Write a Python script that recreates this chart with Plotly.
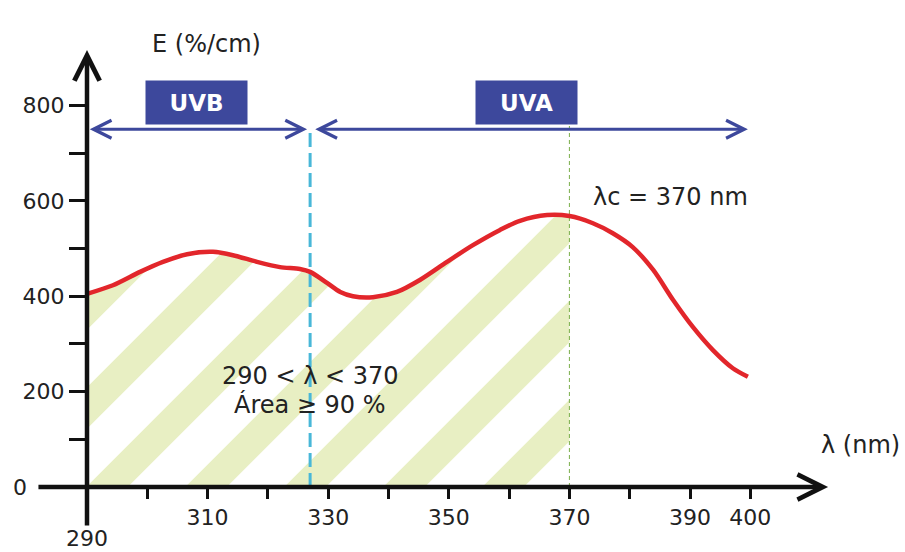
import plotly.graph_objects as go

# ---------------- data ----------------
wavelength_nm = [290.0, 294.3, 298.8, 302.6, 306.6, 310.9, 314.2, 318.2, 322.0, 325.3,
                 327.0, 329.8, 332.0, 334.1, 337.4, 341.4, 345.2, 349.7, 354.0, 358.5,
                 361.8, 366.3, 370.0, 373.9, 377.2, 380.5, 383.9, 387.2, 390.5, 393.8,
                 397.1, 399.6]
efficacy = [405, 423, 451, 472, 488, 493, 486, 472, 461, 457,
            451, 428, 409, 400, 398, 409, 434, 472, 507, 539,
            558, 570, 568, 553, 532, 503, 455, 392, 335, 287,
            249, 231]

x_tick_vals = [300, 310, 320, 330, 340, 350, 360, 370, 380, 390, 400]
x_tick_text = ["", "310", "", "330", "", "350", "", "370", "", "390", "400"]
y_tick_vals = [100, 200, 300, 400, 500, 600, 700, 800]
y_tick_text = ["", "200", "", "400", "", "600", "", "800"]

x_origin = 290
uv_boundary_nm = 327
lambda_c_nm = 370
band_level = 750
uvb_span = [290.2, 326.5]
uva_span = [327.6, 399.6]

# ---------------- scales (pixel layout of the reference) ----------------
W, H = 905, 552
px_per_nm = 6.03
px_per_unit = 0.477
x0_px, y0_px = 87, 487
x_range = [x_origin - x0_px / px_per_nm, x_origin + (W - x0_px) / px_per_nm]
y_range = [-(H - y0_px) / px_per_unit, y0_px / px_per_unit]

FONT = "DejaVu Sans"
TXT = "#222222"
RED = "#e2262b"
NAVY = "#3d489c"

fig = go.Figure()

# hatched area 290..370
fx = [w for w in wavelength_nm if w <= lambda_c_nm]
fy = efficacy[:len(fx)]
fig.add_trace(go.Scatter(
    x=fx, y=fy, mode="lines", line=dict(width=0, shape="spline", smoothing=0.8),
    fill="tozeroy", fillcolor="rgba(255,255,255,0)",
    fillpattern=dict(shape="/", fgcolor="#e8efc3", bgcolor="rgba(255,255,255,0)",
                     size=70, solidity=0.42, fgopacity=1),
    hoverinfo="skip", showlegend=False))

# boundary UVB/UVA (cyan dashed)
fig.add_trace(go.Scatter(
    x=[uv_boundary_nm, uv_boundary_nm], y=[0, band_level], mode="lines",
    line=dict(color="#48b7d8", width=3, dash="14px,6px"),
    hoverinfo="skip", showlegend=False))

# lambda_c (thin green dashed)
fig.add_trace(go.Scatter(
    x=[lambda_c_nm, lambda_c_nm], y=[0, 762], mode="lines",
    line=dict(color="#7aae4a", width=1, dash="4px,3px"),
    hoverinfo="skip", showlegend=False))

# red curve
fig.add_trace(go.Scatter(
    x=wavelength_nm, y=efficacy, mode="lines",
    line=dict(color=RED, width=4.5, shape="spline", smoothing=0.8),
    hoverinfo="skip", showlegend=False))

x_pos = (0 - y_range[0]) / (y_range[1] - y_range[0])
y_pos = (x_origin - x_range[0]) / (x_range[1] - x_range[0])

fig.update_layout(
    width=W, height=H,
    margin=dict(l=0, r=0, t=0, b=0, autoexpand=False),
    paper_bgcolor="white", plot_bgcolor="white",
    font=dict(family=FONT, color=TXT, size=22),
    xaxis=dict(range=x_range, anchor="free", position=x_pos, automargin=False,
               showgrid=False, zeroline=False, showline=False,
               tickmode="array", tickvals=x_tick_vals, ticktext=x_tick_text,
               ticks="outside", ticklen=11, tickwidth=3, tickcolor="#111",
               tickfont=dict(size=22, color=TXT, family=FONT)),
    yaxis=dict(range=y_range, anchor="free", position=y_pos, automargin=False,
               showgrid=False, zeroline=False, showline=False,
               tickmode="array", tickvals=y_tick_vals, ticktext=y_tick_text,
               ticks="outside", ticklen=18, tickwidth=3, tickcolor="#111",
               tickfont=dict(size=22, color=TXT, family=FONT)),
)

ann = []
# axes with arrow heads
ann.append(dict(x=412.9, y=0, ax=281.7, ay=0, xref="x", yref="y", axref="x", ayref="y",
                text="", showarrow=True, arrowhead=5, arrowsize=1.1, arrowwidth=4.5,
                arrowcolor="#111"))
ann.append(dict(x=x_origin, y=916, ax=x_origin, ay=-84, xref="x", yref="y", axref="x", ayref="y",
                text="", showarrow=True, arrowhead=5, arrowsize=1.1, arrowwidth=4.5,
                arrowcolor="#111"))
# band arrows
for span in (uvb_span, uva_span):
    ann.append(dict(x=span[1], y=band_level, ax=span[0], ay=band_level,
                    xref="x", yref="y", axref="x", ayref="y", text="", showarrow=True,
                    arrowhead=5, startarrowhead=5, arrowside="end+start",
                    arrowsize=1.1, startarrowsize=1.1, arrowwidth=3.2, arrowcolor=NAVY))
# band boxes
ann.append(dict(x=308.15, y=806, xref="x", yref="y", text="<b>UVB</b>", showarrow=False,
                bgcolor=NAVY, width=101, height=43, borderpad=0,
                font=dict(size=23, color="white", family=FONT)))
ann.append(dict(x=362.95, y=806, xref="x", yref="y", text="<b>UVA</b>", showarrow=False,
                bgcolor=NAVY, width=101, height=43, borderpad=0,
                font=dict(size=23, color="white", family=FONT)))
# texts
ann.append(dict(x=373.5, y=609, xref="x", yref="y", xanchor="left", text="λc = 370 nm",
                showarrow=False, font=dict(size=24, color=TXT, family=FONT)))
ann.append(dict(x=327, y=232, xref="x", yref="y", text="290 < λ < 370",
                showarrow=False, font=dict(size=24, color=TXT, family=FONT)))
ann.append(dict(x=327, y=172, xref="x", yref="y", text="Área ≥ 90 %",
                showarrow=False, font=dict(size=24, color=TXT, family=FONT)))
# axis titles
ann.append(dict(x=150 / W, y=1 - 28 / H, xref="paper", yref="paper", text="E (%/cm)",
                showarrow=False, font=dict(size=24, color=TXT, family=FONT)))
ann.append(dict(x=902 / W, y=1 - 461 / H, xref="paper", yref="paper", xanchor="right",
                text="λ (nm)", showarrow=False, font=dict(size=24, color=TXT, family=FONT)))
# special tick labels
ann.append(dict(x=x_origin, y=-109, xref="x", yref="y", text="290", showarrow=False,
                font=dict(size=22, color=TXT, family=FONT)))
ann.append(dict(x=280.3, y=0, xref="x", yref="y", xanchor="right", text="0", showarrow=False,
                font=dict(size=22, color=TXT, family=FONT)))

fig.update_layout(annotations=ann)
fig.write_html("out.html", config={"displayModeBar": False},
               post_script="document.body.style.margin='0';document.body.style.overflow='hidden';")
